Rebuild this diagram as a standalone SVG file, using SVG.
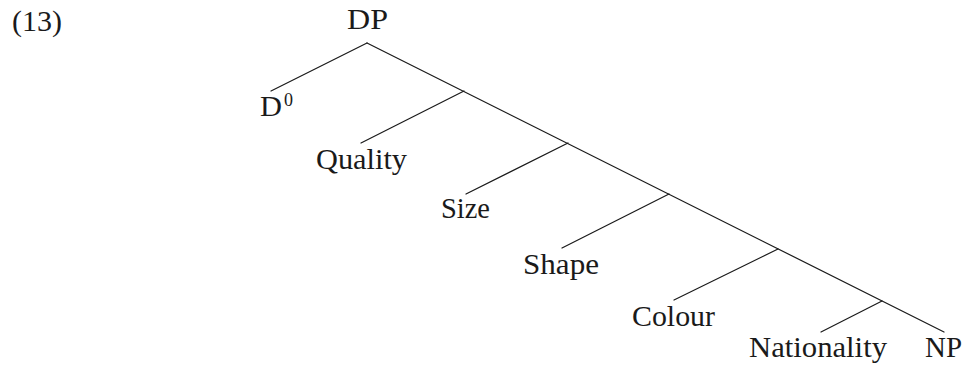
<svg xmlns="http://www.w3.org/2000/svg" width="967" height="365" viewBox="0 0 967 365">
<style>
.t{font-family:"Liberation Serif","DejaVu Serif",serif;font-size:28.5px;fill:#1a1a1a}
.s{font-family:"Liberation Serif","DejaVu Serif",serif;font-size:19px;fill:#1a1a1a}
.e{stroke:#1a1a1a;stroke-width:1.2;fill:none;stroke-linecap:round}
</style>
<rect width="967" height="365" fill="#fff"/>
<text class="t" x="12" y="31" textLength="50" lengthAdjust="spacingAndGlyphs">(13)</text>
<g id="connectors">
<path class="e" d="M367 43 L944 332"/>
<path class="e" d="M367 43 L271 91"/>
<path class="e" d="M464 91 L361 143"/>
<path class="e" d="M568 143 L466 194"/>
<path class="e" d="M669 194 L562 248"/>
<path class="e" d="M778 249 L674 300"/>
<path class="e" d="M882 301 L821 332"/>
</g>
<g id="DP"><text class="t" x="347" y="29" textLength="41" lengthAdjust="spacingAndGlyphs">DP</text></g>
<g id="D0"><text class="t" x="260" y="116" textLength="22" lengthAdjust="spacingAndGlyphs">D</text><text class="s" x="284" y="106" textLength="9" lengthAdjust="spacingAndGlyphs">0</text></g>
<g id="Quality"><text class="t" x="316" y="169" textLength="91" lengthAdjust="spacingAndGlyphs">Quality</text></g>
<g id="Size"><text class="t" x="441" y="218" textLength="49" lengthAdjust="spacingAndGlyphs">Size</text></g>
<g id="Shape"><text class="t" x="523" y="274" textLength="76" lengthAdjust="spacingAndGlyphs">Shape</text></g>
<g id="Colour"><text class="t" x="632" y="326" textLength="83" lengthAdjust="spacingAndGlyphs">Colour</text></g>
<g id="Nationality"><text class="t" x="749" y="357" textLength="138" lengthAdjust="spacingAndGlyphs">Nationality</text></g>
<g id="NP"><text class="t" x="925" y="357" textLength="37" lengthAdjust="spacingAndGlyphs">NP</text></g>
</svg>
